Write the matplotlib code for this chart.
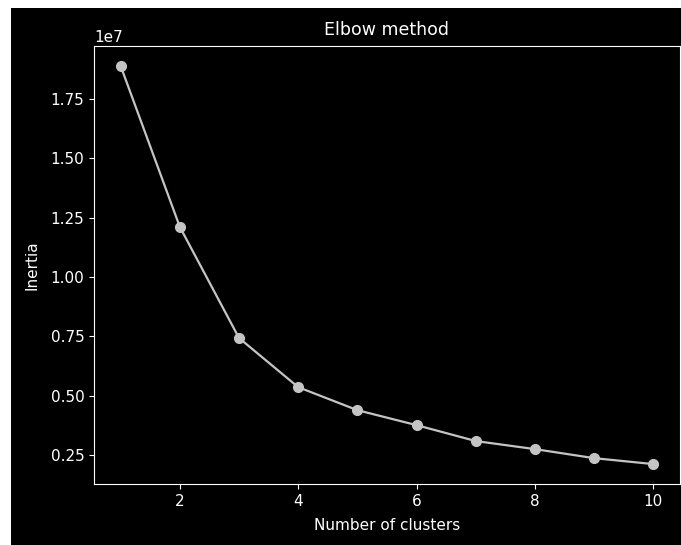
import matplotlib
matplotlib.use("Agg")
import matplotlib.pyplot as plt
from matplotlib.patches import Rectangle

plt.style.use("dark_background")

clusters = [1, 2, 3, 4, 5, 6, 7, 8, 9, 10]
inertia = [1.889e7, 1.211e7, 0.743e7, 0.536e7, 0.439e7, 0.376e7, 0.309e7, 0.275e7, 0.237e7, 0.212e7]

W, H = 681, 545
fig = plt.figure(figsize=(W / 100, H / 100), dpi=100)
fig.patch.set_facecolor("white")
fig.patches.append(Rectangle((11 / W, 0), 1 - 11 / W, 1 - 8 / H,
                             transform=fig.transFigure, facecolor="black",
                             edgecolor="none", zorder=-10))

ax = fig.add_axes([94 / W, 1 - 484 / H, (680 - 94) / W, (484 - 46) / H])
ax.set_facecolor("black")
ax.plot(clusters, inertia, color="#c4c4c4", marker="o", markersize=7, linewidth=1.6)
ax.set_title("Elbow method", fontsize=12.5, pad=8)
ax.set_xlabel("Number of clusters", fontsize=11, labelpad=6.5)
ax.set_ylabel("Inertia", fontsize=11, labelpad=8)
ax.tick_params(labelsize=11)
ax.yaxis.get_offset_text().set_fontsize(11)

fig.savefig("out.png", dpi=100, facecolor=fig.get_facecolor())
